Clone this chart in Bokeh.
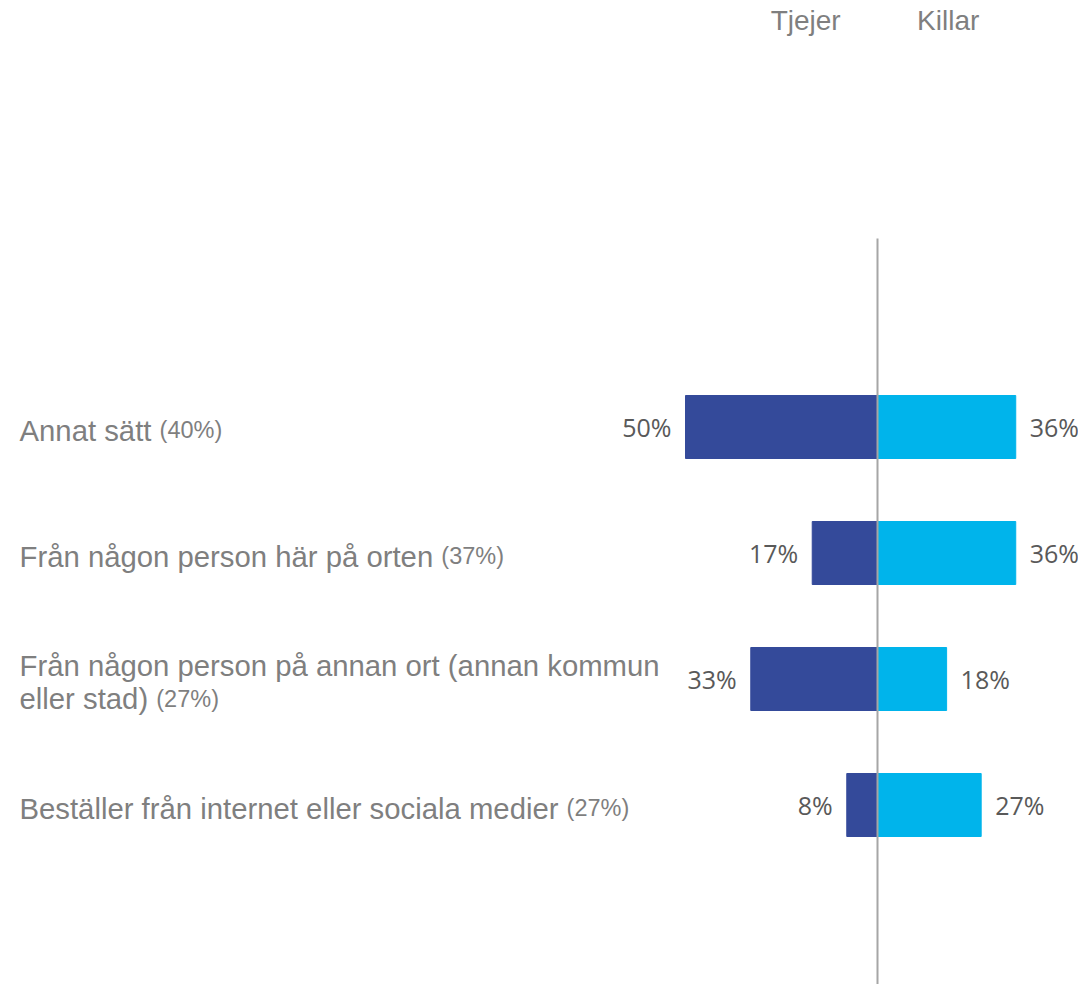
from bokeh.plotting import figure
from bokeh.models import Range1d, ColumnDataSource
from bokeh.core.properties import value
from bokeh.embed import file_html
from bokeh.resources import INLINE

# ---- data ----
categories = [
    "Annat sätt",
    "Från någon person här på orten",
    "Från någon person på annan ort (annan kommun eller stad)",
    "Beställer från internet eller sociala medier",
]
totals = [40, 37, 27, 27]
tjejer = [50, 17, 33, 8]
killar = [36, 36, 18, 27]
series_names = ["Tjejer", "Killar"]

# ---- layout constants ----
W, H = 1078, 984
PX_PER_PCT = 3.84
CENTER_X = 877          # px from plot left where 0% sits
ROW_PX = 126
FIRST_ROW = 426.5       # px from plot top of the first row centre
LABEL_X = 19
LINE_TOP = 238
HEAD_Y = 20
BASE_DROP = 3           # baseline shift below row centre, px
LINE_PX = 33
LABEL_FONT = 29.3
SUFFIX_FONT = 23.5
VALUE_FONT = 25
HEAD_FONT = 28
GREY = "#7F7F7F"
VAL_GREY = "#595959"
DARK = "#344A9A"
CYAN = "#00B4EB"

x0 = -CENTER_X / PX_PER_PCT
x1 = (W - CENTER_X) / PX_PER_PCT
y_top = -FIRST_ROW / ROW_PX
y_bot = (H - FIRST_ROW) / ROW_PX

# Arial / Liberation Sans advance widths (1/1000 em)
AW = {" ": 278, "(": 333, ")": 333, "%": 889, "A": 667, "B": 667, "F": 611,
      "a": 556, "b": 556, "c": 500, "d": 556, "e": 556, "f": 278, "g": 556,
      "h": 556, "i": 222, "j": 222, "k": 500, "l": 222, "m": 833, "n": 556,
      "o": 556, "p": 556, "q": 556, "r": 333, "s": 500, "t": 278, "u": 556,
      "v": 500, "w": 722, "x": 500, "y": 500, "z": 500, "å": 556, "ä": 556,
      "ö": 556}


def tw(s, size):
    return sum(AW.get(c, 556) for c in s) * size / 1000.0


MAX_W = 655
lab_x, lab_y, lab_t = [], [], []
suf_x, suf_y, suf_t, suf_off = [], [], [], []
line_gap = LINE_PX / ROW_PX
drop = BASE_DROP / ROW_PX
for k, (cat, tot) in enumerate(zip(categories, totals)):
    suffix = f"({tot}%)"
    words = cat.split(" ")
    lines = [words[0]]
    for w in words[1:]:
        cand = lines[-1] + " " + w
        if tw(cand, LABEL_FONT) <= MAX_W:
            lines[-1] = cand
        else:
            lines.append(w)
    suffix_new_line = tw(lines[-1] + " ", LABEL_FONT) + tw(suffix, SUFFIX_FONT) > MAX_W
    n = len(lines) + (1 if suffix_new_line else 0)
    for i, ln in enumerate(lines):
        yy = k + drop + (i - (n - 1) / 2) * line_gap
        lab_x.append(x0 + LABEL_X / PX_PER_PCT)
        lab_y.append(yy)
        lab_t.append(ln)
    if suffix_new_line:
        yy = k + drop + ((n - 1) - (n - 1) / 2) * line_gap
        off = 0
    else:
        yy = lab_y[-1]
        off = tw(lines[-1] + " ", LABEL_FONT)
    suf_x.append(lab_x[-1])
    suf_y.append(yy)
    suf_t.append(suffix)
    suf_off.append(off)

ys = list(range(len(categories)))
src = ColumnDataSource(dict(
    y=ys,
    tj_left=[-v for v in tjejer],
    zero=[0] * len(ys),
    ki=killar,
    tj_lab=[f"{v}%" for v in tjejer],
    ki_lab=[f"{v}%" for v in killar],
))

p = figure(width=W, height=H, output_backend="svg", toolbar_location=None,
           x_range=Range1d(x0, x1), y_range=Range1d(y_bot, y_top),
           min_border=0, min_border_left=0, min_border_right=0,
           min_border_top=0, min_border_bottom=0)
p.axis.visible = False
p.grid.visible = False
p.outline_line_color = None
p.background_fill_color = "white"
p.border_fill_color = "white"

p.hbar(y="y", left="tj_left", right="zero", height=0.5, source=src,
       fill_color=DARK, line_color=DARK)
p.hbar(y="y", left="zero", right="ki", height=0.5, source=src,
       fill_color=CYAN, line_color=CYAN)

# centre line
p.segment(x0=[0], y0=[(LINE_TOP - FIRST_ROW) / ROW_PX], x1=[0], y1=[y_bot],
          line_color="#A6A6A6", line_width=2)

# value labels
p.text(x="tj_left", y="y", text="tj_lab", source=src, x_offset=-14,
       text_align="right", text_baseline="middle",
       text_font=value("Open Sans"), text_font_size=f"{VALUE_FONT}px",
       text_color=VAL_GREY)
p.text(x="ki", y="y", text="ki_lab", source=src, x_offset=14,
       text_align="left", text_baseline="middle",
       text_font=value("Open Sans"), text_font_size=f"{VALUE_FONT}px",
       text_color=VAL_GREY)

# category labels
p.text(x=lab_x, y=lab_y, text=lab_t, text_align="left",
       text_baseline="alphabetic",
       text_font=value("Liberation Sans"), text_font_size=f"{LABEL_FONT}px",
       text_color=GREY)
suf_src = ColumnDataSource(dict(x=suf_x, y=suf_y, t=suf_t, off=suf_off))
p.text(x="x", y="y", text="t", x_offset="off", source=suf_src,
       text_align="left", text_baseline="alphabetic",
       text_font=value("Liberation Sans"), text_font_size=f"{SUFFIX_FONT}px",
       text_color=GREY)

# series headers
head_y = (HEAD_Y - FIRST_ROW) / ROW_PX
p.text(x=[-18.7, 18.4], y=[head_y, head_y], text=series_names,
       text_align="center", text_baseline="middle",
       text_font=value("Liberation Sans"), text_font_size=f"{HEAD_FONT}px",
       text_color=GREY)

open("out.html", "w").write(file_html(p, INLINE))
